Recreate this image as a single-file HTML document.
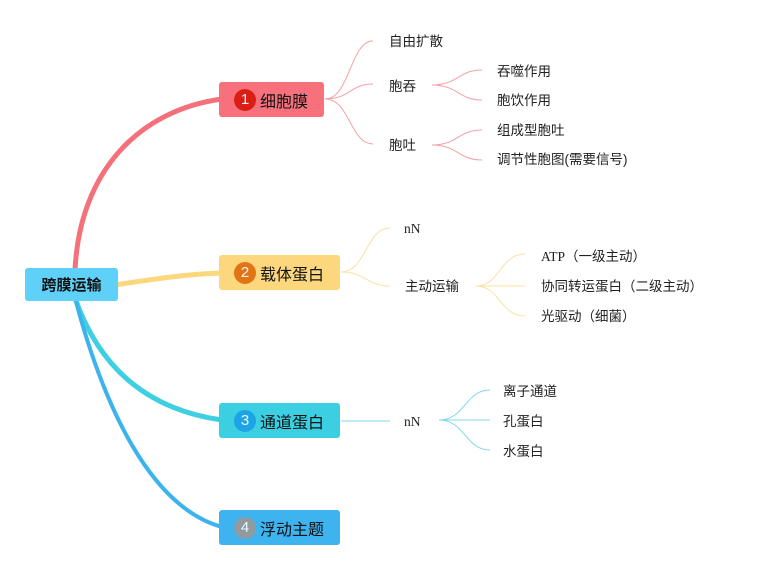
<!DOCTYPE html>
<html><head><meta charset="utf-8"><style>
html,body{margin:0;padding:0;background:#fff;}
body{width:769px;height:570px;position:relative;overflow:hidden;font-family:"Liberation Sans","Noto Sans CJK SC",sans-serif;}
.n{position:absolute;border-radius:3px;display:flex;align-items:center;font-size:16px;color:#111;box-sizing:border-box;}
.c{width:22px;height:22px;border-radius:50%;color:#fff;opacity:.9;display:inline-flex;align-items:center;justify-content:center;font-size:15px;margin:0 4px 0 15px;}
.t{position:absolute;font-size:13.5px;color:#222;line-height:16px;white-space:nowrap;}
.s{font-family:"Liberation Serif","Noto Serif CJK SC",serif;}
</style></head><body>
<svg width="769" height="570" style="position:absolute;left:0;top:0">
<g fill="none">
<path d="M75 270 C 80 170, 140 110, 222 99" stroke="#f4717c" stroke-width="5"/>
<path d="M115 285 C 160 278, 190 274, 222 273" stroke="#fbd77e" stroke-width="5"/>
<path d="M75 298 C 100 370, 150 410, 222 420" stroke="#3ecfe3" stroke-width="5"/>
<path d="M75 298 C 110 430, 160 510, 222 527" stroke="#3db3ee" stroke-width="4"/>
<g stroke="#f4a0a6" stroke-width="1">
<path d="M325 99 C 350 99, 350 41, 373 41"/>
<path d="M325 99 C 350 99, 350 84, 373 84"/>
<path d="M325 99 C 350 99, 350 144, 373 144"/>
<path d="M432 85 C 458 85, 458 70, 482 70"/>
<path d="M432 85 C 458 85, 458 100, 482 100"/>
<path d="M432 145 C 458 145, 458 130, 482 130"/>
<path d="M432 145 C 458 145, 458 160, 482 160"/>
</g>
<g stroke="#fbe1a3" stroke-width="1">
<path d="M341 272 C 366 272, 366 228, 390 228"/>
<path d="M341 272 C 366 272, 366 286, 390 286"/>
<path d="M476 286 C 500 286, 500 254, 525 254"/>
<path d="M476 286 L 525 286"/>
<path d="M476 286 C 500 286, 500 316, 525 316"/>
</g>
<g stroke="#7fd8ea" stroke-width="1">
<path d="M341 421 L 390 421"/>
<path d="M439 420 C 465 420, 465 390, 490 390"/>
<path d="M439 420 L 490 420"/>
<path d="M439 420 C 465 420, 465 450, 490 450"/>
</g>
</g>
</svg>
<div class="n" style="left:25px;top:268px;width:93px;height:33px;background:#5fd0f8;justify-content:center;font-weight:bold;font-size:15px;">跨膜运输</div>
<div class="n" style="left:219px;top:82px;width:105px;height:35px;background:#f7717d;"><span class="c" style="background:#d9150a">1</span>细胞膜</div>
<div class="n" style="left:219px;top:255px;width:121px;height:35px;background:#fcd77e;"><span class="c" style="background:#e06a0a">2</span>载体蛋白</div>
<div class="n" style="left:219px;top:403px;width:121px;height:35px;background:#3ccfe2;"><span class="c" style="background:#1aa0e8">3</span>通道蛋白</div>
<div class="n" style="left:219px;top:510px;width:121px;height:35px;background:#3db3ef;"><span class="c" style="background:#999">4</span>浮动主题</div>
<div class="t" style="left:389px;top:34px">自由扩散</div>
<div class="t" style="left:389px;top:79px">胞吞</div>
<div class="t" style="left:389px;top:138px">胞吐</div>
<div class="t" style="left:497px;top:64px">吞噬作用</div>
<div class="t" style="left:497px;top:93px">胞饮作用</div>
<div class="t" style="left:497px;top:123px">组成型胞吐</div>
<div class="t" style="left:497px;top:152px">调节性胞图(需要信号)</div>
<div class="t s" style="left:404px;top:221px">nN</div>
<div class="t" style="left:405px;top:279px">主动运输</div>
<div class="t" style="left:541px;top:249px"><span class="s">ATP</span>（一级主动）</div>
<div class="t" style="left:541px;top:279px">协同转运蛋白（二级主动）</div>
<div class="t" style="left:541px;top:309px">光驱动（细菌）</div>
<div class="t s" style="left:404px;top:414px">nN</div>
<div class="t" style="left:503px;top:384px">离子通道</div>
<div class="t" style="left:503px;top:414px">孔蛋白</div>
<div class="t" style="left:503px;top:444px">水蛋白</div>
</body></html>
